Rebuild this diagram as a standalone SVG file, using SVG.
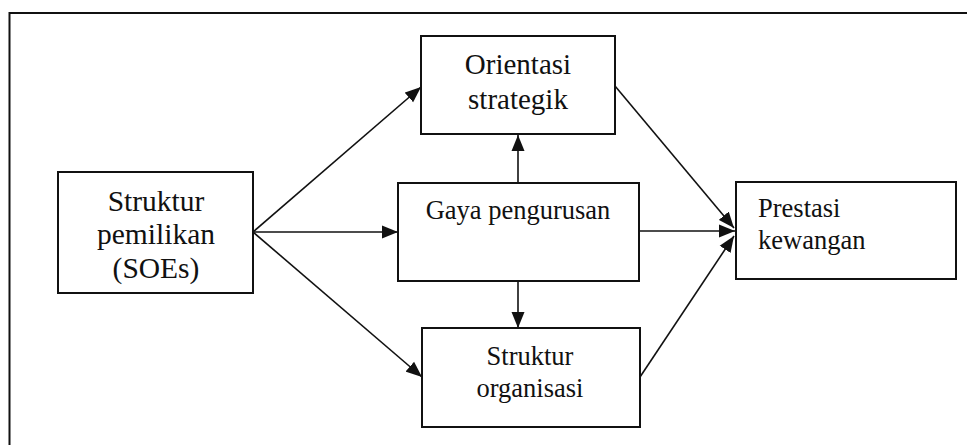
<svg xmlns="http://www.w3.org/2000/svg" width="967" height="445" viewBox="0 0 967 445">
<style>
.box{fill:#fff;stroke:#111;stroke-width:2}
.t{font-family:"Liberation Serif","Times New Roman",serif;fill:#111;text-anchor:middle}
.l{font-family:"Liberation Serif","Times New Roman",serif;fill:#111}
.c{fill:none;stroke:#111;stroke-width:1.6;marker-end:url(#ah)}
</style>
<defs>
<marker id="ah" markerWidth="17" markerHeight="14" refX="16" refY="7" orient="auto" markerUnits="userSpaceOnUse">
<path d="M0,0.5 L16,7 L0,13.5 Z" fill="#111"/>
</marker>
</defs>
<rect width="967" height="445" fill="#fff"/>
<path d="M9.5,460 L9.5,13 L980,13" fill="none" stroke="#111" stroke-width="2"/>
<g id="connectors">
<line class="c" x1="253" y1="232" x2="421" y2="87"/>
<line class="c" x1="253" y1="232" x2="398" y2="232"/>
<line class="c" x1="253" y1="232" x2="422" y2="377"/>
<line class="c" x1="518" y1="183" x2="518" y2="135"/>
<line class="c" x1="518" y1="281" x2="518" y2="328"/>
<line class="c" x1="615" y1="86" x2="734" y2="228"/>
<line class="c" x1="639" y1="231" x2="735" y2="231"/>
<line class="c" x1="640" y1="377" x2="734" y2="236"/>
</g>
<g id="struktur-pemilikan">
<rect class="box" x="58" y="172" width="195" height="121"/>
<text class="t" x="156" y="211" font-size="29.5">Struktur</text>
<text class="t" x="156" y="244" font-size="29.5">pemilikan</text>
<text class="t" x="156" y="278" font-size="29.5">(SOEs)</text>
</g>
<g id="orientasi-strategik">
<rect class="box" x="421" y="36" width="194" height="98"/>
<text class="t" x="518" y="74" font-size="29">Orientasi</text>
<text class="t" x="518" y="109" font-size="29">strategik</text>
</g>
<g id="gaya-pengurusan">
<rect class="box" x="398" y="183" width="241" height="98"/>
<text class="t" x="518" y="219" font-size="26.5">Gaya pengurusan</text>
</g>
<g id="struktur-organisasi">
<rect class="box" x="422" y="328" width="218" height="99"/>
<text class="t" x="530" y="365" font-size="26.5">Struktur</text>
<text class="t" x="530" y="397" font-size="26.5">organisasi</text>
</g>
<g id="prestasi-kewangan">
<rect class="box" x="736" y="182" width="220" height="97"/>
<text class="l" x="758" y="217" font-size="26.5">Prestasi</text>
<text class="l" x="758" y="249" font-size="26.5">kewangan</text>
</g>
</svg>
